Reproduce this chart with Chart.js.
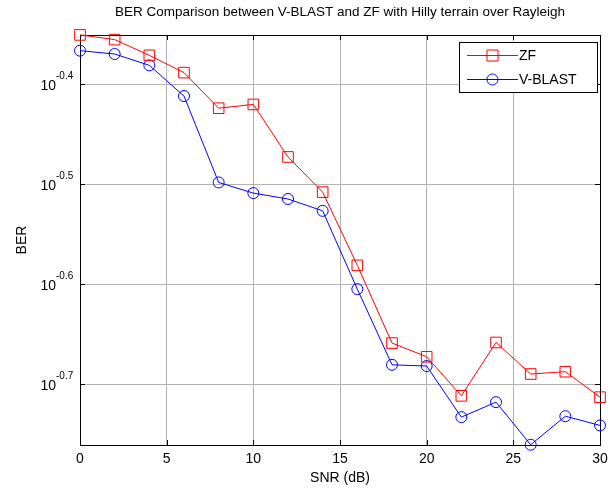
<!DOCTYPE html>
<html><head><meta charset="utf-8">
<script src="https://cdn.jsdelivr.net/npm/chart.js@4.4.1/dist/chart.umd.min.js"></script>
<style>html,body{margin:0;padding:0;background:#fff}#c{display:block}</style>
</head><body>
<canvas id="c" width="616" height="491"></canvas>
<script>
// ---- data ----
const snr = [0,2,4,6,8,10,12,14,16,18,20,22,24,26,28,30];
const zf = [0.4461,0.4413,0.4256,0.4090,0.3768,0.3801,0.3368,0.3106,0.2624,0.2194,0.2126,0.1943,0.2197,0.2043,0.2054,0.1937];
const vblast = [0.4302,0.4269,0.4159,0.3875,0.3176,0.3099,0.3057,0.2975,0.2484,0.2087,0.2081,0.1850,0.1915,0.1736,0.1854,0.1815];
const seriesNames = ['ZF','V-BLAST'];
const xTicks = [0,5,10,15,20,25,30];
const yTickExps = ['-0.4','-0.5','-0.6','-0.7'];
const titleText = 'BER Comparison between V-BLAST and ZF with Hilly terrain over Rayleigh';
const xLabel = 'SNR (dB)';
const yLabel = 'BER';

const FONT = 'Arial, "Liberation Sans", Helvetica, sans-serif';
const gridColor = '#b3b3b3';
const seriesColors = ['#ff0000', '#0000ff'];
const seriesMarkers = ['rect', 'circle'];

function drawMarker(ctx, style, x, y, color) {
  ctx.save();
  ctx.strokeStyle = color; ctx.lineWidth = 1;
  ctx.beginPath();
  if (style === 'rect') ctx.rect(x - 5.5, y - 5.5, 11, 11);
  else ctx.arc(x, y, 5.5, 0, Math.PI * 2);
  ctx.stroke();
  ctx.restore();
}

const matlabPlugin = {
  id: 'matlab',
  beforeDatasetsDraw(chart) {
    const ctx = chart.ctx, a = chart.chartArea;
    const xs = chart.scales.x, ys = chart.scales.y;
    ctx.save();
    ctx.strokeStyle = '#000'; ctx.lineWidth = 1;
    ctx.beginPath();
    xTicks.forEach(v => {
      const px = Math.round(xs.getPixelForValue(v)) + 0.5;
      ctx.moveTo(px, a.bottom); ctx.lineTo(px, a.bottom - 5);
      ctx.moveTo(px, a.top); ctx.lineTo(px, a.top + 5);
    });
    yTickExps.forEach(e => {
      const py = Math.round(ys.getPixelForValue(Math.pow(10, parseFloat(e)))) + 0.5;
      ctx.moveTo(a.left, py); ctx.lineTo(a.left + 5, py);
      ctx.moveTo(a.right, py); ctx.lineTo(a.right - 5, py);
    });
    ctx.stroke();
    ctx.strokeRect(Math.round(a.left) + 0.5, Math.round(a.top) + 0.5,
      Math.round(a.right - a.left), Math.round(a.bottom - a.top));
    ctx.restore();
  },
  afterDraw(chart) {
    const ctx = chart.ctx, a = chart.chartArea;
    const ys = chart.scales.y;
    ctx.save();
    ctx.fillStyle = '#000';
    ctx.font = '13.5px ' + FONT;
    ctx.textAlign = 'center'; ctx.textBaseline = 'middle';
    ctx.fillText(titleText, (a.left + a.right) / 2, 12);
    yTickExps.forEach(e => {
      const py = ys.getPixelForValue(Math.pow(10, parseFloat(e)));
      ctx.font = '14px ' + FONT;
      ctx.textAlign = 'right'; ctx.textBaseline = 'alphabetic';
      ctx.fillText('10', 56, py + 6);
      ctx.font = '10px ' + FONT;
      ctx.textAlign = 'left';
      ctx.fillText(e, 56, py - 5);
    });
    const lx = 459, ly = 42, lw = 138, lh = 50;
    ctx.fillStyle = '#fff';
    ctx.fillRect(lx, ly, lw, lh);
    ctx.strokeStyle = '#000'; ctx.lineWidth = 1;
    ctx.strokeRect(lx + 0.5, ly + 0.5, lw, lh);
    seriesNames.forEach((name, i) => {
      const yy = ly + 13 + i * 24;
      ctx.strokeStyle = seriesColors[i]; ctx.lineWidth = 1;
      ctx.beginPath(); ctx.moveTo(467, yy + 0.5); ctx.lineTo(518, yy + 0.5); ctx.stroke();
      drawMarker(ctx, seriesMarkers[i], 492.5, yy + 0.5, seriesColors[i]);
      ctx.fillStyle = '#000';
      ctx.font = '14px ' + FONT;
      ctx.textAlign = 'left'; ctx.textBaseline = 'middle';
      ctx.fillText(name, 519, yy + 1);
    });
    ctx.restore();
  }
};

const seriesData = [zf, vblast];
new Chart(document.getElementById('c'), {
  type: 'line',
  data: {
    datasets: seriesNames.map((name, i) => ({
      label: name,
      data: snr.map((x, j) => ({ x, y: seriesData[i][j] })),
      borderColor: seriesColors[i], backgroundColor: 'rgba(0,0,0,0)', borderWidth: 1,
      pointStyle: seriesMarkers[i], pointRadius: i === 0 ? 7.5 : 5.5, pointBorderWidth: 1,
      pointBackgroundColor: 'rgba(0,0,0,0)', pointBorderColor: seriesColors[i],
      tension: 0, clip: false
    }))
  },
  options: {
    responsive: false, animation: false, devicePixelRatio: 1,
    layout: { padding: { left: 0, right: 16, top: 35, bottom: 0 } },
    plugins: { legend: { display: false }, title: { display: false }, tooltip: { enabled: false } },
    scales: {
      x: {
        type: 'linear', min: 0, max: 30,
        afterBuildTicks: s => { s.ticks = xTicks.map(v => ({ value: v })); },
        afterFit: s => { s.height = 46; },
        grid: { color: gridColor, lineWidth: 1, drawTicks: false },
        border: { display: false },
        ticks: { color: '#000', font: { family: FONT, size: 14 }, padding: 6, maxRotation: 0, autoSkip: false },
        title: { display: true, text: xLabel, color: '#000', font: { family: FONT, size: 14 }, padding: { top: 0, bottom: 4 } }
      },
      y: {
        type: 'logarithmic', min: 0.1735, max: 0.4460,
        afterBuildTicks: s => { s.ticks = yTickExps.map(e => ({ value: Math.pow(10, parseFloat(e)) })); },
        afterFit: s => { s.width = 80; },
        grid: { color: gridColor, lineWidth: 1, drawTicks: false },
        border: { display: false },
        ticks: { callback: () => '', padding: 0 },
        title: { display: true, text: yLabel, color: '#000', font: { family: FONT, size: 14 }, padding: { top: 14, bottom: 0 } }
      }
    }
  },
  plugins: [matlabPlugin]
});
</script>
</body></html>
